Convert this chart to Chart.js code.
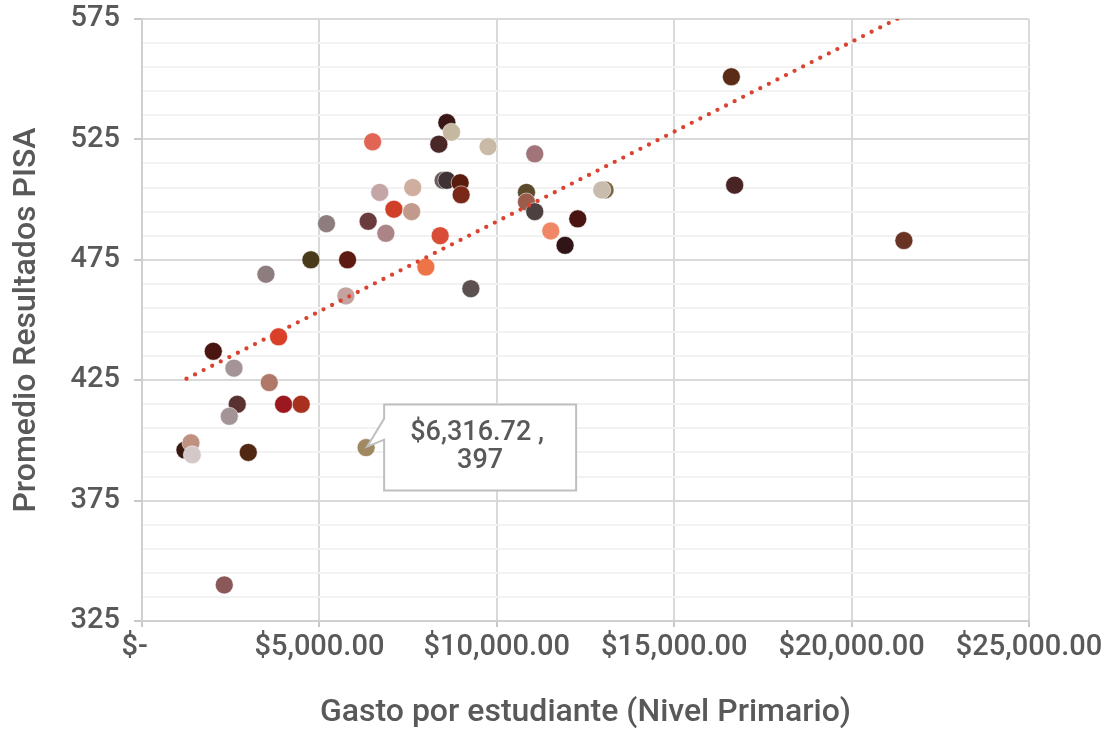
<!DOCTYPE html>
<html>
<head>
<meta charset="utf-8">
<script src="https://cdn.jsdelivr.net/npm/chart.js@4/dist/chart.umd.min.js"></script>
<style>
  html, body { margin: 0; padding: 0; background: #fff; }
  #wrap { width: 1109px; height: 729px; }
</style>
</head>
<body>
<div id="wrap"><canvas id="pisaChart"></canvas></div>
<script>
// gasto por estudiante (USD) y promedio PISA
const gastoX = [
  6500, 6700, 7630, 7100, 7600, 5200, 6375, 6873, 4760, 5794,
  3493, 5746, 8592, 8723, 8366, 9755, 11070, 8488, 8592, 8967,
  8995, 10836, 10836, 11070, 13051, 12958, 12282, 11521, 11924, 8404,
  8000, 9268, 2009, 3850, 2592, 3587, 2685, 2460, 3990, 4487,
  1211, 1380, 1418, 2995, 6316.72, 2319, 16611, 16704, 21474
];
const pisaY = [
  524, 503, 505, 496, 495, 490, 491, 486, 475, 475,
  469, 460, 532, 528, 523, 522, 519, 508, 508, 507,
  502, 503, 499, 495, 504, 504, 492, 487, 481, 485,
  472, 463, 437, 443, 430, 424, 415, 410, 415, 415,
  396, 399, 394, 395, 397, 340, 551, 506, 483
];
const puntoColores = [
  '#e06555', '#c4a6a6', '#cfaea0', '#d04028', '#c29a8c', '#8d7d7f', '#6b3c3e', '#aa8486', '#4a3a1c', '#5c1a10',
  '#8d7d7f', '#c4a2a0', '#3a1616', '#c4b8a0', '#4a2828', '#c8baa6', '#a07478', '#6a5a5a', '#3e3234', '#5a1c0c',
  '#7a2818', '#5c4a2c', '#9c5c4c', '#4c4040', '#7c6440', '#c8bcae', '#4a1410', '#f08868', '#301418', '#d84c38',
  '#ee7448', '#5c5050', '#4a1410', '#d84028', '#a49498', '#b07868', '#5a3030', '#a49498', '#9c1820', '#a8301e',
  '#3a1a10', '#c09080', '#d4c8c8', '#502814', '#a08860', '#8a5858', '#5a2c18', '#4a2424', '#6a3424'
];
// linea de tendencia (extremos leidos, se corta arriba en 575)
const tendenciaX = [1254, 21474];
const tendenciaY = [425.6, 576.5];

const xTicks = [0, 5000, 10000, 15000, 20000, 25000];
const yMin = 325, yMax = 575;
const calloutIndex = 44;

const textColor = '#595959';
const fontFamily = 'Roboto, "Noto Sans", sans-serif';
const tickFont = { family: fontFamily, size: 29, weight: '500' };
const titleFont = { family: fontFamily, size: 32, weight: '500' };

function fmtMoney(v) {
  return '$' + v.toLocaleString('en-US', { minimumFractionDigits: 2, maximumFractionDigits: 2 });
}

const calloutPlugin = {
  id: 'callout',
  afterDatasetsDraw(chart) {
    const meta = chart.getDatasetMeta(0);
    const pt = meta.data[calloutIndex];
    if (!pt) return;
    const ctx = chart.ctx;
    const px = pt.x, py = pt.y;
    const left = px + 18, top = py - 43, w = 192, h = 86;
    ctx.save();
    ctx.beginPath();
    ctx.moveTo(left, top);
    ctx.lineTo(left + w, top);
    ctx.lineTo(left + w, top + h);
    ctx.lineTo(left, top + h);
    ctx.lineTo(left, py - 8);
    ctx.lineTo(px + 1, py - 1);
    ctx.lineTo(left, py - 29);
    ctx.closePath();
    ctx.fillStyle = '#ffffff';
    ctx.fill();
    ctx.lineWidth = 2;
    ctx.strokeStyle = '#bfbfbf';
    ctx.stroke();
    ctx.fillStyle = textColor;
    ctx.font = '500 27px ' + fontFamily;
    ctx.textAlign = 'center';
    ctx.textBaseline = 'middle';
    ctx.fillText(fmtMoney(gastoX[calloutIndex]) + ' ,', left + w / 2 - 3, top + 29);
    ctx.fillText(String(pisaY[calloutIndex]), left + w / 2, top + 57);
    ctx.restore();
  }
};

const ctx = document.getElementById('pisaChart').getContext('2d');
new Chart(ctx, {
  type: 'scatter',
  data: {
    datasets: [
      {
        label: 'Paises',
        data: gastoX.map((x, i) => ({ x: x, y: pisaY[i] })),
        backgroundColor: puntoColores,
        borderColor: 'rgba(255,255,255,0.55)',
        borderWidth: 1,
        pointRadius: 9,
        order: 1
      },
      {
        label: 'Tendencia',
        data: tendenciaX.map((x, i) => ({ x: x, y: tendenciaY[i] })),
        showLine: true,
        pointRadius: 0,
        borderColor: '#d9432f',
        borderWidth: 4.3,
        borderDash: [0, 9.6],
        borderCapStyle: 'round',
        order: 0
      }
    ]
  },
  options: {
    responsive: true,
    maintainAspectRatio: false,
    animation: false,
    layout: { autoPadding: false, padding: { top: 19, right: 80, left: 0, bottom: 0 } },
    plugins: {
      legend: { display: false },
      tooltip: { enabled: false }
    },
    scales: {
      x: {
        type: 'linear',
        min: 0,
        max: 25000,
        afterBuildTicks: axis => { axis.ticks = xTicks.map(v => ({ value: v })); },
        afterFit: axis => { axis.height = 108; axis.paddingRight = 0; axis.paddingLeft = 0; },
        border: { color: '#d0d0d0', width: 2 },
        grid: { color: '#d9d9d9', lineWidth: 2, tickLength: 6, tickColor: '#c8c8c8' },
        ticks: {
          color: textColor,
          font: tickFont,
          padding: 3,
          maxRotation: 0,
          callback: v => v === 0 ? '$-\u00a0\u00a0' : fmtMoney(v)
        },
        title: {
          display: true,
          text: 'Gasto por estudiante (Nivel Primario)',
          color: textColor,
          font: titleFont,
          padding: { top: 0, bottom: -3 }
        }
      },
      y: {
        min: yMin,
        max: yMax,
        afterFit: axis => { axis.width = 142; axis.paddingTop = 0; axis.paddingBottom = 0; },
        border: { color: '#d0d0d0', width: 2 },
        grid: {
          color: c => ((c.tick.value - yMin) % 50 === 0) ? '#d9d9d9' : '#f2f2f2',
          tickColor: c => ((c.tick.value - yMin) % 50 === 0) ? '#c8c8c8' : 'rgba(0,0,0,0)',
          lineWidth: 2,
          tickLength: 8
        },
        ticks: {
          stepSize: 10,
          color: textColor,
          font: tickFont,
          padding: 14,
          autoSkip: false,
          callback: v => ((v - yMin) % 50 === 0) ? String(v) : ''
        },
        title: {
          display: true,
          text: 'Promedio Resultados PISA',
          color: textColor,
          font: titleFont,
          padding: { top: 8, bottom: 0 }
        }
      }
    }
  },
  plugins: [calloutPlugin]
});
</script>
</body>
</html>
